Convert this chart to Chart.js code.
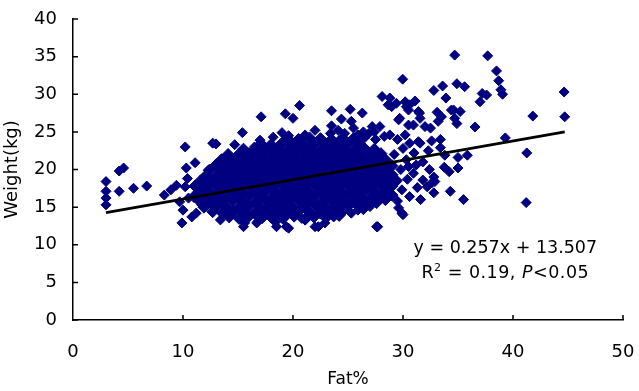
<!DOCTYPE html>
<html><head><meta charset="utf-8">
<script src="https://cdn.jsdelivr.net/npm/chart.js@4/dist/chart.umd.min.js"></script>
<style>html,body{margin:0;padding:0;background:#fff}#wrap{width:639px;height:391px}</style>
</head><body><div id="wrap"><canvas id="c" width="639" height="391"></canvas></div>
<script>
// ---- data: [Fat%, Weight(kg)] pairs ----
const bottomEdge = [[15.5,12.4],[15.6,12.9],[16.7,12.9],[16.8,13.1],[18.4,13.0],[18.5,12.4],[19.4,12.4],[19.6,12.2],[20.8,13.5],[22.0,12.4],[22.3,12.4],[22.9,12.9],[23.7,13.7],[25.3,14.2],[25.9,14.6],[13.4,13.3],[9.9,12.9],[10.8,13.7],[11.2,14.2],[27.7,12.4],[29.9,14.2],[29.6,14.9],[30.0,14.0]];
const coreLow = [[14.2,13.7],[15.1,13.5],[16.0,13.8],[17.2,13.6],[18.0,13.7],[19.1,13.5],[20.1,13.8],[21.1,13.4],[21.9,13.7],[23.0,13.6],[24.2,13.9],
 [12.7,14.4],[13.6,14.2],[14.6,14.4],[15.5,14.3],[16.5,14.2],[17.5,14.4],[18.6,14.3],[19.5,14.2],[20.5,14.4],[21.5,14.3],[22.5,14.2],[23.5,14.4],[24.4,14.3],[26.4,14.8],
 [11.9,15.0],[13.1,15.1],[14.0,14.9],[15.1,15.0],[16.0,15.1],[17.0,14.9],[18.0,15.0],[19.1,15.1],[20.0,14.9],[21.0,15.0],[22.1,15.1],[23.0,14.9],[24.0,15.0],[25.0,15.1],[26.0,15.0],[27.0,15.2],
 [11.5,15.8],[12.5,15.6],[13.5,15.7],[14.5,15.8],[15.5,15.6],[16.6,15.7],[17.5,15.8],[18.5,15.6],[19.5,15.7],[20.5,15.8],[21.5,15.6],[22.6,15.7],[23.5,15.8],[24.5,15.6],[25.5,15.7],[26.5,15.8],[27.6,15.6],[28.4,16.0]];
const coreMid = [[11.0,16.4],[12.0,16.3],[13.0,16.5],[14.0,16.4],[15.0,16.3],[16.0,16.5],[17.0,16.4],[18.1,16.3],[19.0,16.5],[20.0,16.4],[21.0,16.3],[22.0,16.5],[23.0,16.4],[24.0,16.3],[25.0,16.5],[26.0,16.4],[27.1,16.3],[28.0,16.5],[29.0,16.6],
 [11.5,17.1],[12.5,17.0],[13.5,17.2],[14.5,17.1],[15.5,17.0],[16.5,17.2],[17.5,17.1],[18.5,17.0],[19.5,17.2],[20.5,17.1],[21.5,17.0],[22.5,17.2],[23.5,17.1],[24.5,17.0],[25.5,17.2],[26.5,17.1],[27.5,17.0],[28.5,17.2],
 [11.1,17.8],[12.0,17.7],[13.0,17.9],[14.0,17.8],[15.0,17.7],[16.0,17.9],[17.0,17.8],[18.0,17.7],[19.0,17.9],[20.0,17.8],[21.0,17.7],[22.0,17.9],[23.0,17.8],[24.0,17.7],[25.0,17.9],[26.0,17.8],[27.0,17.7],[28.0,17.9],[29.0,17.8],
 [11.6,18.5],[12.5,18.4],[13.5,18.6],[14.5,18.5],[15.5,18.4],[16.5,18.6],[17.5,18.5],[18.5,18.4],[19.5,18.6],[20.5,18.5],[21.5,18.4],[22.5,18.6],[23.5,18.5],[24.5,18.4],[25.5,18.6],[26.5,18.5],[27.5,18.4],[28.5,18.6],[29.4,18.5],
 [12.1,19.2],[13.0,19.1],[14.0,19.3],[15.0,19.2],[16.0,19.1],[17.0,19.3],[18.0,19.2],[19.0,19.1],[20.0,19.3],[21.0,19.2],[22.0,19.1],[23.0,19.3],[24.0,19.2],[25.0,19.1],[26.0,19.3],[27.0,19.2],[28.0,19.1],[29.0,19.3],
 [12.4,19.9],[13.5,19.8],[14.5,20.0],[15.5,19.9],[16.5,19.8],[17.5,20.0],[18.5,19.9],[19.5,19.8],[20.5,20.0],[21.5,19.9],[22.5,19.8],[23.5,20.0],[24.5,19.9],[25.5,19.8],[26.5,20.0],[27.5,19.9],[28.5,19.8]];
const coreHigh = [[13.0,20.6],[14.0,20.5],[15.0,20.7],[16.0,20.6],[17.0,20.5],[18.0,20.7],[19.0,20.6],[20.0,20.5],[21.0,20.7],[22.0,20.6],[23.0,20.5],[24.0,20.7],[25.0,20.6],[26.0,20.5],[27.0,20.7],[28.0,20.6],[29.0,20.5],
 [13.5,21.3],[14.5,21.2],[15.5,21.4],[16.5,21.3],[17.5,21.2],[18.5,21.4],[19.5,21.3],[20.5,21.2],[21.5,21.4],[22.5,21.3],[23.5,21.2],[24.5,21.4],[25.5,21.3],[26.5,21.2],[27.5,21.4],[28.4,21.3],
 [14.1,22.0],[15.0,21.9],[16.0,22.1],[17.0,22.0],[18.0,21.9],[19.0,22.1],[20.0,22.0],[21.0,21.9],[22.0,22.1],[23.0,22.0],[24.0,21.9],[25.0,22.1],[26.0,22.0],[27.0,21.9],[28.0,22.1],
 [15.5,22.7],[16.5,22.6],[17.5,22.8],[18.5,22.7],[19.5,22.6],[20.5,22.8],[21.5,22.7],[22.5,22.6],[23.5,22.8],[24.5,22.7],[25.5,22.6],[26.5,22.8],[27.4,22.7],
 [17.1,23.4],[18.0,23.3],[19.0,23.5],[20.0,23.4],[21.0,23.3],[22.0,23.5],[23.0,23.4],[24.0,23.3],[25.0,23.5],[26.0,23.4],
 [19.5,24.1],[20.5,24.0],[21.5,24.2],[22.5,24.1],[23.5,24.0],[24.5,24.2],[25.5,24.1]];
const leftTail = [[3.0,18.4],[3.0,17.1],[3.0,16.2],[3.0,15.3],[4.2,19.8],[4.6,20.2],[4.2,17.1],[5.5,17.5],[6.7,17.8],[8.3,16.6],[8.9,17.3],[9.4,17.9],[9.7,15.7],[10.0,14.6],[10.2,23.0],[10.3,20.2],[11.1,20.9],[10.2,17.7],[10.5,16.2],[10.4,18.8],[11.7,15.3],[12.3,19.9],[12.7,23.5]];
const upperScatter = [[13.0,23.4],[14.7,23.3],[15.4,24.9],[16.5,23.0],[17.1,27.0],[19.3,27.4],[20.0,26.8],[20.6,28.5],[22.0,25.2],[19.0,24.9],[19.6,24.5],[21.1,24.6],[23.5,27.8],[25.2,28.0],[24.4,26.7],[25.3,26.4],[23.4,24.8],[24.1,25.2],[24.7,24.8],[25.5,25.5],[25.9,24.6],[23.5,25.8],[26.3,27.5],[27.2,25.7],[27.9,25.7],[27.4,25.0],[26.4,25.0],[26.9,24.8],[18.2,24.3],[17.0,23.9],[26.5,24.2],[27.5,24.0],[28.3,24.4],[29.5,24.0],[28.8,24.6]];
const rightScatter = [[28.1,29.7],[28.8,29.5],[29.4,28.8],[28.65,28.6],[28.97,28.35],[30.3,28.35],[30.2,29.0],[30.6,28.6],[31.1,29.1],[30.5,27.9],[29.97,32.0],[32.8,30.5],[33.6,31.1],[33.9,29.5],[34.9,31.4],[35.6,31.0],[34.7,35.2],[37.7,35.1],[38.5,33.1],[38.7,31.8],[38.9,30.6],[39.05,30.0],[37.2,30.1],[37.6,29.9],[37.0,29.0],[29.7,26.8],[29.6,26.6],[30.5,25.9],[30.95,25.9],[31.4,27.7],[31.55,26.8],[31.5,27.5],[33.1,27.6],[33.5,27.0],[33.2,26.4],[34.4,27.9],[34.6,27.9],[35.2,27.7],[34.7,26.8],[34.9,26.1],[36.55,25.65],[30.2,24.6],[32.0,25.7],[32.5,25.5],[33.4,24.0],[33.4,22.9],[31.4,23.7],[31.55,23.5],[30.6,23.5],[33.8,21.9],[35.0,21.6],[35.85,21.9],[33.75,20.3],[34.2,19.7],[35.0,20.2],[32.8,19.0],[32.9,18.4],[32.6,18.2],[31.8,18.6],[32.2,17.7],[34.3,17.1],[32.8,16.9],[35.5,16.0],[30.5,20.4],[30.95,19.5],[44.65,30.3],[44.7,27.0],[41.8,27.1],[41.25,22.2],[39.3,24.2],[41.2,15.6],[27.6,12.4],
 [30.0,22.8],[29.2,22.0],[30.3,21.3],[31.0,22.2],[31.8,21.0],[32.3,22.5],[29.8,20.0],[31.2,20.6],[30.4,18.7],[31.3,17.6],[29.9,17.3],[30.6,16.4],[31.6,16.0],[29.5,15.8],[32.4,20.0],[32.6,23.8]];
const fitLine = [[3.0,14.28],[44.7,24.99]];
const xTicks = [0,10,20,30,40,50];
const yTicks = [0,5,10,15,20,25,30,35,40];
const xTitle = 'Fat%';
const yTitle = 'Weight(kg)';
const eqLine1 = 'y = 0.257x + 13.507';
const eqLine2 = [['R',''],['2','sup'],[' = 0.19, ',''],['P','italic'],['<0.05','']];
const eqAnchor = [39.3, 9.55, 6.2]; // fat%, weight of line 1, weight of line 2

const toXY = arr => arr.map(([x,y]) => ({x, y}));
const corePoints = toXY([].concat(coreLow, coreMid, coreHigh));
const otherPoints = toXY([].concat(bottomEdge, leftTail, upperScatter, rightScatter));

const FONT = '"DejaVu Sans", sans-serif';
Chart.defaults.font.family = FONT;
Chart.defaults.color = '#000';

const innerTicks = {
  id: 'innerTicks',
  afterDraw(chart) {
    const {ctx, scales: {x, y}, chartArea: ca} = chart;
    ctx.save();
    ctx.strokeStyle = '#000';
    ctx.lineWidth = 1.5;
    ctx.beginPath();
    yTicks.forEach(v => { const p = y.getPixelForValue(v); ctx.moveTo(ca.left, p); ctx.lineTo(ca.left + 5, p); });
    xTicks.forEach(v => { if (v === 0) return; const p = x.getPixelForValue(v); ctx.moveTo(p, ca.bottom); ctx.lineTo(p, ca.bottom - 5); });
    ctx.stroke();
    ctx.restore();
  }
};

const EQ_SIZE = 17.5;
const equation = {
  id: 'equation',
  afterDraw(chart) {
    const {ctx, scales: {x, y}} = chart;
    const cx = x.getPixelForValue(eqAnchor[0]);
    const y1 = y.getPixelForValue(eqAnchor[1]);
    const y2 = y.getPixelForValue(eqAnchor[2]);
    ctx.save();
    ctx.fillStyle = '#000';
    ctx.textBaseline = 'middle';
    ctx.textAlign = 'center';
    ctx.font = EQ_SIZE + 'px ' + FONT;
    ctx.fillText(eqLine1, cx, y1);
    ctx.letterSpacing = '0.5px';
    const fontFor = s => s === 'sup' ? Math.round(EQ_SIZE * 0.65) + 'px ' + FONT : s === 'italic' ? 'italic ' + EQ_SIZE + 'px ' + FONT : EQ_SIZE + 'px ' + FONT;
    let total = 0;
    eqLine2.forEach(([t, s]) => { ctx.font = fontFor(s); total += ctx.measureText(t).width; });
    let px = cx - total / 2;
    ctx.textAlign = 'left';
    eqLine2.forEach(([t, s]) => {
      ctx.font = fontFor(s);
      ctx.fillText(t, px, s === 'sup' ? y2 - 5 : y2);
      px += ctx.measureText(t).width;
    });
    ctx.restore();
  }
};

const noLabelPad = s => { s.paddingLeft = 0; s.paddingRight = 0; s.paddingTop = 0; s.paddingBottom = 0; };

new Chart(document.getElementById('c'), {
  type: 'scatter',
  data: {
    datasets: [
      { data: toXY(fitLine), showLine: true, borderColor: '#000', borderWidth: 2.8, pointRadius: 0, order: 0 },
      { data: corePoints, backgroundColor: '#000080', borderColor: '#000080', borderWidth: 1, pointStyle: 'rectRot', pointRadius: 6, order: 1 },
      { data: otherPoints, backgroundColor: '#000080', borderColor: '#000080', borderWidth: 1, pointStyle: 'rectRot', pointRadius: 5, order: 2 }
    ]
  },
  options: {
    responsive: false,
    animation: false,
    layout: { autoPadding: false, padding: { top: 19, right: 16, left: 0, bottom: 0 } },
    plugins: { legend: { display: false }, tooltip: { enabled: false } },
    scales: {
      x: {
        type: 'linear', min: 0, max: 50,
        afterBuildTicks(s) { s.ticks = xTicks.map(v => ({ value: v })); },
        ticks: { padding: 22, color: '#000', font: { size: 18 } },
        grid: { display: false, drawTicks: false },
        border: { display: true, color: '#000', width: 1.5 },
        title: { display: true, text: xTitle, color: '#000', font: { size: 17 }, padding: { top: 0, bottom: 1 } },
        afterFit(s) { s.height = 71; noLabelPad(s); }
      },
      y: {
        type: 'linear', min: 0, max: 40,
        afterBuildTicks(s) { s.ticks = yTicks.map(v => ({ value: v })); },
        ticks: { padding: 16, color: '#000', font: { size: 18 } },
        grid: { display: false, drawTicks: false },
        border: { display: true, color: '#000', width: 1.5 },
        title: { display: true, text: yTitle, color: '#000', font: { size: 18 }, padding: { top: 2, bottom: 0 } },
        afterFit(s) { s.width = 73; noLabelPad(s); }
      }
    }
  },
  plugins: [innerTicks, equation]
});
</script></body></html>
